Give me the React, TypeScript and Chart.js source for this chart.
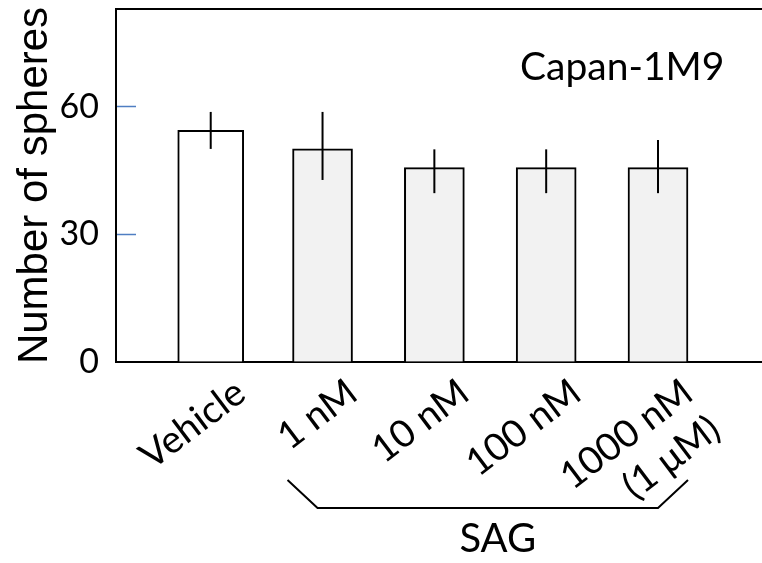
import React, { useEffect, useRef } from "react";
import { Chart, registerables } from "chart.js";

Chart.register(...registerables);

// ---- data ----
const CATEGORIES: (string | string[])[] = ["Vehicle", "1 nM", "10 nM", "100 nM", ["1000 nM", "(1 μM)"]];
const CATEGORY_POSITIONS = [0, 1, 2, 3, 4];
const VEHICLE_MEAN = [54.5];
const SAG_MEANS = [50.1, 45.7, 45.7, 45.7];
const ERROR_HIGH = [58.8, 58.8, 50.0, 50.0, 52.2];
const ERROR_LOW = [50.1, 42.8, 39.7, 39.7, 39.7];
const Y_TICKS = [0, 30, 60];
const Y_MAX = 83;
const Y_TITLE = "Number of spheres";
const CELL_LINE = "Capan-1M9";
const GROUP_LABEL = "SAG";

const SANS = "Lato";

const annotations = {
  id: "annotations",
  afterDatasetsDraw(chart: any) {
    const { ctx, scales } = chart;
    const y = scales.y;
    ctx.save();
    ctx.strokeStyle = "#000";
    ctx.lineWidth = 2;
    chart.data.datasets.forEach((ds: any, di: number) => {
      const meta = chart.getDatasetMeta(di);
      meta.data.forEach((el: any, j: number) => {
        const idx = ds.data[j].x;
        ctx.beginPath();
        ctx.moveTo(el.x, y.getPixelForValue(ERROR_HIGH[idx]));
        ctx.lineTo(el.x, y.getPixelForValue(ERROR_LOW[idx]));
        ctx.stroke();
      });
    });
    ctx.restore();
  },
  afterDraw(chart: any) {
    const { ctx, chartArea } = chart;
    ctx.save();
    // top frame line
    ctx.strokeStyle = "#000";
    ctx.lineWidth = 2;
    ctx.beginPath();
    ctx.moveTo(chartArea.left - 1, chartArea.top);
    ctx.lineTo(chartArea.right, chartArea.top);
    ctx.stroke();

    // SAG bracket
    const meta = chart.getDatasetMeta(1);
    const first = meta.data[0];
    const last = meta.data[meta.data.length - 1];
    const left = first.x - first.width / 2 - 5;
    const right = last.x + last.width / 2;
    const yTop = chartArea.bottom + 118;
    const yBot = chartArea.bottom + 146;
    const diag = 30;
    ctx.lineWidth = 2;
    ctx.beginPath();
    ctx.moveTo(left, yTop);
    ctx.lineTo(left + diag, yBot);
    ctx.lineTo(right - diag, yBot);
    ctx.lineTo(right, yTop);
    ctx.stroke();

    ctx.fillStyle = "#000";
    ctx.font = `40px ${SANS}`;
    ctx.textAlign = "center";
    ctx.textBaseline = "alphabetic";
    ctx.fillText(GROUP_LABEL, (left + right) / 2 + 10, chartArea.bottom + 190);

    ctx.font = `39px ${SANS}`;
    ctx.textAlign = "left";
    ctx.fillText(CELL_LINE, 520, 80);
    ctx.restore();
  },
};

export default function App() {
  const ref = useRef<HTMLCanvasElement | null>(null);

  useEffect(() => {
    document.body.style.margin = "0";
    const canvas = ref.current;
    if (!canvas) return;
    const chart = new Chart(canvas, {
      type: "bar",
      data: {
        datasets: [
          {
            label: "Vehicle",
            data: VEHICLE_MEAN.map((v, i) => ({ x: CATEGORY_POSITIONS[i], y: v })),
            backgroundColor: "#ffffff",
            borderColor: "#000000",
            borderWidth: 2,
            barThickness: 66,
            grouped: false,
          } as any,
          {
            label: "SAG",
            data: SAG_MEANS.map((v, i) => ({ x: CATEGORY_POSITIONS[i + 1], y: v })),
            backgroundColor: "#f2f2f2",
            borderColor: "#000000",
            borderWidth: 2,
            barThickness: 60,
            grouped: false,
          } as any,
        ],
      },
      options: {
        animation: false,
        responsive: false,
        layout: { padding: { top: 9, left: 0, right: 0, bottom: 0 } },
        plugins: {
          legend: { display: false },
          tooltip: { enabled: false },
        },
        scales: {
          x: {
            type: "linear",
            min: -0.847,
            max: 4.93,
            offset: false,
            afterBuildTicks: (s: any) => {
              s.ticks = CATEGORY_POSITIONS.map((v) => ({ value: v }));
            },
            afterFit: (s: any) => {
              s.height = 201;
              s.paddingLeft = 0;
              s.paddingRight = 0;
              s.paddingTop = 0;
              s.paddingBottom = 0;
            },
            ticks: {
              autoSkip: false,
              minRotation: 37,
              maxRotation: 37,
              padding: 0,
              labelOffset: 30,
              color: "#000",
              font: { family: SANS, size: 38 },
              callback: (_v: any, i: number) => CATEGORIES[i],
            },
            grid: { display: false, offset: false },
            border: { display: true, color: "#000", width: 2 },
          } as any,
          y: {
            type: "linear",
            min: 0,
            max: Y_MAX,
            afterBuildTicks: (s: any) => {
              s.ticks = Y_TICKS.map((v) => ({ value: v }));
            },
            afterFit: (s: any) => {
              s.width = 116;
              s.paddingTop = 0;
              s.paddingBottom = 0;
              s.paddingLeft = 0;
              s.paddingRight = 0;
            },
            ticks: {
              padding: 37,
              color: "#000",
              font: { family: SANS, size: 34 },
            },
            grid: {
              display: true,
              drawOnChartArea: false,
              drawTicks: true,
              tickLength: -20,
              tickWidth: 1.5,
              tickColor: (c: any) => (c.tick && c.tick.value === 0 ? "rgba(0,0,0,0)" : "#4f7ec2"),
            },
            border: { display: true, color: "#000", width: 2 },
            title: {
              display: true,
              text: Y_TITLE,
              color: "#000",
              font: { family: "Liberation Sans", size: 42 },
              padding: { top: 10, bottom: 0 },
            },
          } as any,
        },
      },
      plugins: [annotations],
    });
    const fonts: any = (document as any).fonts;
    if (fonts && fonts.load) {
      Promise.all([fonts.load(`38px ${SANS}`), fonts.load("42px 'Liberation Sans'")]).then(() => chart.update());
    }
    return () => chart.destroy();
  }, []);

  return (
    <div style={{ width: 762, height: 563 }}>
      <canvas ref={ref} width={762} height={563} style={{ display: "block" }} />
    </div>
  );
}
